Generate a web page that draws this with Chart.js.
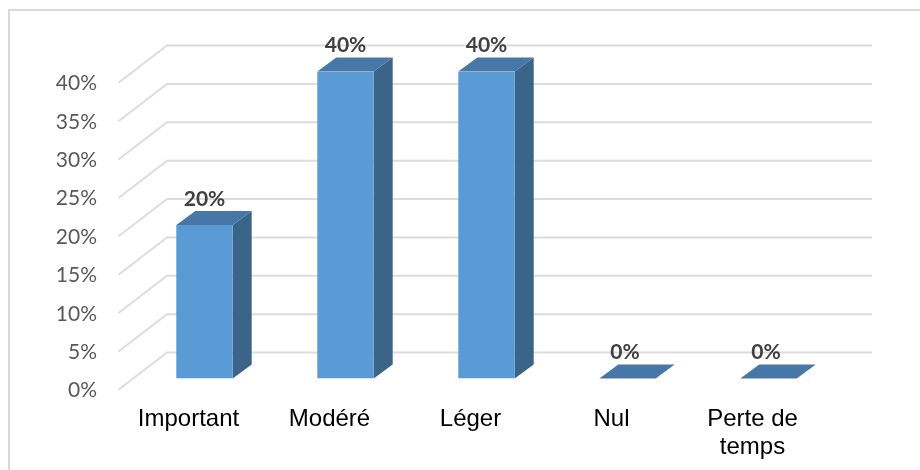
<!DOCTYPE html>
<html><head><meta charset="utf-8">
<style>html,body{margin:0;padding:0;background:#fff}#w{width:920px;height:470px;position:relative}</style>
<script src="https://cdn.jsdelivr.net/npm/chart.js@4"></script>
</head><body><div id="w"><canvas id="c" width="920" height="470"></canvas></div>
<script>
const categories = ["Important","Modéré","Léger","Nul",["Perte de","temps"]];
const values = [20,40,40,0,0];
const dataLabels = ["20%","40%","40%","0%","0%"];
const DX=19, DY=14;
const solid = {
  id:'solid',
  beforeDatasetsDraw(chart){
    const {ctx,chartArea:a,scales:{y}}=chart;
    ctx.save();
    // frame: top and left edges only
    ctx.strokeStyle='#d9d9d9';ctx.lineWidth=2;
    ctx.beginPath();ctx.moveTo(920,10);ctx.lineTo(9,10);ctx.lineTo(9,470);ctx.stroke();
    // wall lines and side lines
    ctx.lineWidth=2;ctx.strokeStyle='#dcdcdc';
    y.ticks.forEach(t=>{
      const p=y.getPixelForValue(t.value);
      ctx.beginPath();
      ctx.moveTo(a.left-15.5,p+11.3);
      ctx.lineTo(a.left+33,p-26);
      ctx.lineTo(a.right+33,p-26);
      ctx.stroke();
    });
    // 3D faces
    chart.getDatasetMeta(0).data.forEach(b=>{
      const L=b.x-b.width/2,R=b.x+b.width/2,T=b.y,B=b.base;
      ctx.fillStyle='#3a6488';
      ctx.beginPath();ctx.moveTo(R,T);ctx.lineTo(R+DX,T-DY);ctx.lineTo(R+DX,B-DY);ctx.lineTo(R,B);ctx.closePath();ctx.fill();
      ctx.fillStyle='#4677a6';
      ctx.beginPath();ctx.moveTo(L,T);ctx.lineTo(L+DX,T-DY);ctx.lineTo(R+DX,T-DY);ctx.lineTo(R,T);ctx.closePath();ctx.fill();
    });
    ctx.restore();
  },
  afterDatasetsDraw(chart){
    const {ctx}=chart;
    ctx.save();
    ctx.font='bold 21px Lato';ctx.fillStyle='#404040';ctx.textAlign='center';ctx.textBaseline='middle';
    chart.getDatasetMeta(0).data.forEach((b,i)=>{
      ctx.fillText(dataLabels[i],b.x-(values[i]===0?2.5:0),b.y-26);
    });
    ctx.restore();
  }
};
new Chart(document.getElementById('c'),{
  type:'bar',
  data:{labels:categories,datasets:[{data:values,backgroundColor:'#5b9bd5',borderWidth:0,barPercentage:0.4,categoryPercentage:1}]},
  plugins:[solid],
  options:{
    responsive:false,animation:false,
    layout:{padding:{top:71.5,right:81,bottom:0,left:0}},
    plugins:{legend:{display:false},tooltip:{enabled:false}},
    scales:{
      x:{
        grid:{display:false,drawTicks:false},border:{display:false},
        afterFit(s){s.height=91.5;},
        ticks:{color:'#000',font:{family:'Liberation Sans',size:24},padding:26,labelOffset:-16,maxRotation:0,autoSkip:false}
      },
      y:{
        min:0,max:40,
        grid:{display:false,drawTicks:false},border:{display:false},
        afterFit(s){s.width=134;},
        ticks:{stepSize:5,color:'#595959',font:{family:'Lato',size:21},padding:37,labelOffset:12,callback:v=>v+'%'}
      }
    }
  }
});
</script></body></html>
